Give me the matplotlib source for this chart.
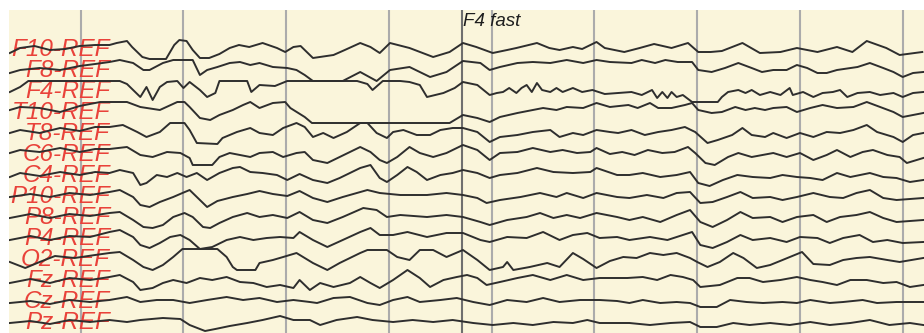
import numpy as np
import matplotlib
matplotlib.use("Agg")
import matplotlib.pyplot as plt

# montage, top to bottom
channels = ["F10-REF", "F8-REF", "F4-REF", "T10-REF", "T8-REF", "C6-REF", "C4-REF",
            "P10-REF", "P8-REF", "P4-REF", "O2-REF", "Fz-REF", "Cz-REF", "Pz-REF"]

# (time s, amplitude) per channel
F10 = [(0.31, -1), (0.41, 4), (0.55, 6), (0.70, 2), (0.85, 3), (0.99, 6), (1.14, 7), (1.28, 7),
       (1.35, 9), (1.45, 11), (1.50, 5), (1.60, -5), (1.67, -7), (1.83, -7), (1.91, 7), (1.96, 12),
       (2.03, 11), (2.09, 2), (2.16, -6), (2.25, -6), (2.35, -2), (2.45, 4), (2.54, 7), (2.64, 5),
       (2.77, 9), (2.91, 4), (2.99, 0), (3.07, 5), (3.14, 6), (3.26, -6), (3.46, -3), (3.57, 2),
       (3.72, 9), (3.82, 5), (3.91, -1), (4.01, 9), (4.20, 4), (4.43, -5), (4.59, 0), (4.72, 9),
       (4.85, 5), (5.01, -1), (5.15, 2), (5.24, 4), (5.44, 9), (5.56, 4), (5.66, 2), (5.79, 5),
       (5.88, 3), (6.02, 10), (6.10, 4), (6.29, 0), (6.44, 4), (6.58, 8), (6.75, 4), (6.91, 9),
       (7.01, 0), (7.13, 0), (7.24, 1), (7.44, 9), (7.61, -1), (7.81, 0), (7.97, 4), (8.17, 0),
       (8.36, 5), (8.51, 0), (8.65, 11), (8.84, 4), (8.97, -3), (9.19, 0)]
F8 = [(0.31, 0), (0.41, 3), (0.60, 5), (0.80, 3), (0.99, 7), (1.14, 9), (1.28, 11), (1.38, 13),
      (1.51, 10), (1.61, 3), (1.67, 3), (1.80, 10), (1.90, 13), (2.09, 13), (2.16, -2), (2.23, 3),
      (2.33, 6), (2.45, 10), (2.55, 11), (2.65, 8), (2.74, 10), (2.87, 6), (3.01, 5), (3.10, 3),
      (3.18, -2), (3.26, -12), (3.42, -11), (3.55, -9), (3.72, 1), (3.88, -9), (4.01, 3), (4.20, 6),
      (4.40, -4), (4.56, 1), (4.72, 12), (4.89, 10), (4.98, 3), (5.08, 6), (5.25, 10), (5.40, 11),
      (5.57, 10), (5.73, 13), (5.89, 10), (6.02, 13), (6.15, 11), (6.36, 10), (6.46, 13), (6.59, 10),
      (6.69, 13), (6.81, 11), (6.95, 11), (7.01, 3), (7.14, 1), (7.27, 5), (7.40, 10), (7.53, 5),
      (7.63, 1), (7.74, 3), (7.87, 3), (7.97, 8), (8.07, 5), (8.17, 0), (8.26, 0), (8.36, 3),
      (8.56, 6), (8.68, 10), (8.81, 5), (8.91, 1), (9.00, -4), (9.10, 0), (9.20, 1)]
F4 = [(0.31, 2), (0.41, 7), (0.49, 13), (1.38, 13), (1.45, 10), (1.58, -3), (1.64, 7), (1.70, -6),
      (1.77, 7), (1.84, 12), (1.94, 13), (2.00, 6), (2.06, 12), (2.16, 4), (2.23, -3), (2.31, 1),
      (2.35, 13), (2.62, 13), (2.66, 2), (2.74, 9), (2.89, 8), (3.01, 13), (3.69, 13), (3.79, 10),
      (3.84, 4), (3.94, 13), (4.11, 13), (4.20, 12), (4.30, 9), (4.37, -3), (4.53, 1), (4.64, 6),
      (4.72, 12), (4.86, 9), (4.98, -1), (5.05, 1), (5.11, 2), (5.17, 6), (5.24, 1), (5.29, 6),
      (5.34, 9), (5.39, 2), (5.44, 11), (5.49, 4), (5.57, 2), (5.63, 6), (5.69, 2), (5.79, 6),
      (5.88, 2), (5.98, 4), (6.10, 0), (6.23, 1), (6.36, 2), (6.46, -1), (6.56, 4), (6.61, -4),
      (6.66, 2), (6.71, -4), (6.75, 2), (6.80, -3), (6.86, -1), (6.95, -8), (7.20, -8), (7.24, -3),
      (7.30, 2), (7.40, 4), (7.47, 1), (7.53, 4), (7.61, -1), (7.71, 2), (7.81, -1), (7.90, 6),
      (7.93, -1), (8.03, 2), (8.13, -3), (8.22, 1), (8.32, 2), (8.39, 4), (8.46, -3), (8.56, 1),
      (8.68, 2), (8.78, -1), (8.91, 1), (9.00, -3), (9.10, 1), (9.20, 2)]
T10 = [(0.31, 5), (0.41, 8), (0.60, 7), (0.80, 3), (0.99, 9), (1.19, 13), (1.45, 13), (1.58, 8),
       (1.77, 5), (1.94, 13), (2.01, 13), (2.06, 8), (2.16, -3), (2.26, -5), (2.35, 0), (2.48, 5),
       (2.58, 10), (2.65, 13), (2.74, 7), (2.87, 12), (2.99, 13), (3.04, 7), (3.18, -2), (3.25, -8),
       (4.59, -8), (4.72, 0), (4.86, -3), (4.98, -7), (5.08, -2), (5.25, 2), (5.40, 5), (5.50, 7),
       (5.63, 5), (5.73, 8), (5.89, 7), (6.02, 12), (6.15, 8), (6.33, 10), (6.42, 7), (6.54, 12),
       (6.62, 7), (6.75, 7), (6.88, 10), (6.95, 12), (7.01, 5), (7.14, 2), (7.24, 3), (7.37, 8),
       (7.47, 5), (7.56, 7), (7.66, 5), (7.74, 7), (7.87, 8), (7.97, 3), (8.10, 7), (8.22, 10),
       (8.36, 7), (8.52, 8), (8.65, 13), (8.78, 8), (8.91, 3), (9.00, -2), (9.10, 0), (9.20, 2)]
T8 = [(0.31, 3), (0.41, 6), (0.60, 3), (0.80, 8), (0.99, 5), (1.14, 9), (1.28, 9), (1.41, 11),
      (1.55, 4), (1.64, -1), (1.77, 4), (1.87, 13), (2.01, 13), (2.06, 6), (2.13, -7), (2.33, -8),
      (2.38, -2), (2.52, 4), (2.65, 8), (2.74, 3), (2.87, 1), (2.97, 8), (3.10, 13), (3.18, 9),
      (3.26, -1), (3.36, 3), (3.46, -2), (3.59, 4), (3.72, 13), (3.79, 13), (3.88, 3), (3.98, -2),
      (4.04, 4), (4.14, 6), (4.27, 1), (4.40, 1), (4.50, 6), (4.62, 8), (4.72, 8), (4.86, 4),
      (4.98, -6), (5.08, -1), (5.25, 1), (5.40, 4), (5.57, 6), (5.66, -1), (5.79, 3), (5.89, 1),
      (6.02, 6), (6.15, 4), (6.23, 3), (6.36, 6), (6.49, 1), (6.62, 4), (6.75, 6), (6.88, 9),
      (6.98, 4), (7.10, -7), (7.20, -4), (7.34, 1), (7.44, 8), (7.53, 1), (7.66, -1), (7.74, 3),
      (7.87, -2), (8.00, 3), (8.13, -1), (8.26, 4), (8.39, 3), (8.52, 6), (8.65, 11), (8.75, 4),
      (8.91, -1), (9.00, -6), (9.10, 1), (9.20, 3)]
C6 = [(0.31, 4), (0.41, 7), (0.60, 5), (0.80, 9), (0.99, 5), (1.14, 8), (1.28, 8), (1.45, 10),
      (1.58, 2), (1.70, 0), (1.84, 5), (1.97, 4), (2.06, -1), (2.09, -8), (2.28, -8), (2.35, 0),
      (2.45, 4), (2.55, 2), (2.65, 0), (2.74, 4), (2.87, 5), (2.97, 0), (3.10, 4), (3.18, 5),
      (3.26, -3), (3.40, -6), (3.52, 0), (3.72, 10), (3.82, 5), (3.91, -3), (3.98, -6), (4.08, 0),
      (4.20, 10), (4.30, 4), (4.43, 0), (4.56, 4), (4.72, 12), (4.86, 7), (4.98, -3), (5.08, 4),
      (5.25, 5), (5.40, 9), (5.57, 5), (5.69, 7), (5.83, 4), (5.96, 5), (6.02, 9), (6.15, 3),
      (6.27, 5), (6.39, 2), (6.52, 7), (6.66, 4), (6.78, 5), (6.91, 10), (6.98, 4), (7.08, -6),
      (7.17, -8), (7.30, 0), (7.40, 4), (7.53, 0), (7.74, 4), (7.87, 0), (8.00, 4), (8.13, -3),
      (8.26, 2), (8.36, 7), (8.49, 0), (8.61, 5), (8.71, 7), (8.85, 2), (8.97, 0), (9.04, -6),
      (9.20, -1)]
C4 = [(0.31, 1), (0.41, 5), (0.60, 2), (0.80, 6), (0.99, 3), (1.14, 6), (1.28, 5), (1.38, 8),
      (1.51, 5), (1.58, -7), (1.64, -5), (1.74, 3), (1.84, 1), (1.94, 5), (2.03, 1), (2.13, 5),
      (2.23, -2), (2.35, 5), (2.48, 10), (2.55, 11), (2.65, 6), (2.77, 5), (2.91, 3), (3.01, -2),
      (3.13, 4), (3.26, -2), (3.40, -5), (3.52, 0), (3.72, 10), (3.82, 13), (3.91, 0), (3.98, -4),
      (4.08, 3), (4.18, 11), (4.27, 6), (4.37, -2), (4.50, 3), (4.62, 5), (4.72, 8), (4.86, 5),
      (4.98, 0), (5.08, 3), (5.25, 5), (5.44, 10), (5.60, 6), (5.79, 5), (5.96, 6), (6.02, 10),
      (6.22, 3), (6.34, 3), (6.47, 5), (6.64, 1), (6.80, 3), (6.93, 6), (7.01, -5), (7.12, -8),
      (7.25, -2), (7.39, 3), (7.54, 1), (7.71, 0), (7.83, 3), (7.97, 1), (8.10, 0), (8.22, -2),
      (8.36, 5), (8.49, 1), (8.68, 5), (8.81, 1), (8.94, 0), (9.07, -4), (9.20, -2)]
P10 = [(0.31, 2), (0.51, 5), (0.70, 2), (0.89, 6), (1.09, 4), (1.28, 7), (1.38, 9), (1.51, 2),
       (1.58, -6), (1.67, -8), (1.77, -3), (1.90, 2), (1.99, 6), (2.06, 9), (2.16, -1), (2.23, -8),
       (2.33, -2), (2.48, 2), (2.62, 5), (2.74, 8), (2.87, 5), (3.01, 3), (3.13, 8), (3.26, 1),
       (3.40, -3), (3.55, 2), (3.79, 9), (3.91, 6), (4.11, 4), (4.37, 4), (4.56, 6), (4.72, 4),
       (4.86, 1), (4.95, -4), (5.08, -1), (5.28, 2), (5.47, 6), (5.63, 2), (5.73, 6), (5.89, 1),
       (6.02, 6), (6.22, 2), (6.34, 1), (6.51, 4), (6.67, 1), (6.80, 6), (6.93, 7), (7.03, -4),
       (7.15, -3), (7.29, 2), (7.42, 7), (7.54, 1), (7.71, 2), (7.83, -1), (7.97, 2), (8.13, 6),
       (8.29, 2), (8.42, 1), (8.55, 6), (8.68, 9), (8.81, 1), (8.94, -1), (9.20, 1)]
P8 = [(0.31, 2), (0.51, 6), (0.70, 2), (0.89, 6), (1.09, 4), (1.28, 7), (1.38, 8), (1.51, 0),
      (1.61, -7), (1.70, -8), (1.80, -5), (1.90, 3), (2.01, 7), (2.09, 3), (2.19, -7), (2.26, -8),
      (2.35, -3), (2.48, 3), (2.62, 7), (2.74, 3), (2.87, 5), (3.01, 2), (3.13, 8), (3.26, 0),
      (3.40, -3), (3.55, 3), (3.75, 12), (3.88, 10), (3.98, 3), (4.11, 5), (4.37, 3), (4.56, 5),
      (4.72, 3), (4.89, -2), (4.98, -5), (5.15, 0), (5.34, 3), (5.47, 7), (5.60, 2), (5.73, 5),
      (5.86, 2), (6.02, 7), (6.22, 3), (6.34, 0), (6.47, 3), (6.64, -2), (6.80, 5), (6.93, 10),
      (7.03, -2), (7.15, -7), (7.29, 0), (7.42, 8), (7.54, 2), (7.71, 3), (7.83, -2), (7.97, 3),
      (8.13, 5), (8.26, -2), (8.39, 3), (8.55, 5), (8.68, 8), (8.81, 2), (8.94, -2), (9.20, 0)]
P4 = [(0.31, 1), (0.51, 5), (0.70, 1), (0.89, 5), (1.09, 4), (1.28, 9), (1.38, 11), (1.51, 4),
      (1.58, -4), (1.67, -7), (1.77, -2), (1.87, 4), (1.97, 6), (2.06, 1), (2.16, -8), (2.28, -6),
      (2.42, 1), (2.55, 4), (2.68, 1), (2.81, 3), (2.94, 4), (3.07, 3), (3.13, 9), (3.26, 1),
      (3.40, -6), (3.55, 1), (3.72, 9), (3.82, 13), (3.91, 6), (4.04, 6), (4.18, 9), (4.37, 4),
      (4.56, 8), (4.72, 8), (4.89, 1), (4.98, -1), (5.15, 4), (5.34, 3), (5.50, 9), (5.66, 1),
      (5.79, 6), (5.93, 8), (6.05, 3), (6.22, 4), (6.34, 1), (6.54, 4), (6.71, 1), (6.86, 6),
      (6.95, 9), (7.03, -4), (7.15, -7), (7.29, -1), (7.42, 6), (7.54, 1), (7.71, 3), (7.87, -1),
      (8.00, 4), (8.17, 3), (8.29, -2), (8.42, 3), (8.58, 6), (8.71, -1), (8.85, 1), (9.00, -2),
      (9.20, -1)]
O2 = [(0.31, 0), (0.46, -6), (0.60, 0), (0.75, 6), (0.94, 4), (1.14, 7), (1.28, 9), (1.38, 10),
      (1.51, 2), (1.61, -5), (1.70, -8), (1.80, -3), (1.90, 5), (1.99, 13), (2.33, 13), (2.42, 5),
      (2.48, -5), (2.52, -8), (2.70, -8), (2.74, -1), (2.87, 2), (2.97, 5), (3.10, 9), (3.26, -1),
      (3.40, -8), (3.52, -1), (3.72, 9), (3.79, 12), (3.98, 12), (4.08, 5), (4.20, 2), (4.30, 12),
      (4.43, 12), (4.56, 5), (4.72, 12), (4.86, 2), (4.98, -8), (5.11, -5), (5.15, 0), (5.21, -8),
      (5.37, -5), (5.54, -1), (5.66, -5), (5.79, 9), (5.89, 3), (6.02, -6), (6.15, 1), (6.28, 5),
      (6.41, 4), (6.54, 9), (6.67, 7), (6.80, 9), (6.93, 4), (7.00, 0), (7.10, -5), (7.22, 0),
      (7.35, 9), (7.45, 4), (7.58, -6), (7.71, -3), (7.83, 2), (8.02, 10), (8.13, -2), (8.29, -3),
      (8.42, 2), (8.55, 4), (8.68, 5), (8.85, 2), (8.97, 0), (9.20, 4)]
Fz = [(0.31, 0), (0.51, 4), (0.70, 0), (0.89, 5), (1.09, 3), (1.28, 6), (1.38, 8), (1.51, 1),
      (1.58, -7), (1.70, -5), (1.80, 0), (1.90, 3), (2.03, 0), (2.16, 5), (2.28, 3), (2.42, 6),
      (2.55, 1), (2.68, 0), (2.81, -4), (2.94, -2), (3.07, -5), (3.13, 3), (3.23, -7), (3.33, 0),
      (3.46, -4), (3.62, 0), (3.72, 6), (3.82, 0), (3.91, -5), (4.04, 3), (4.18, 13), (4.30, 5),
      (4.40, -4), (4.53, 3), (4.66, 6), (4.76, 8), (4.86, 5), (4.95, -2), (5.08, 1), (5.25, 5),
      (5.40, 8), (5.57, 3), (5.73, 8), (5.89, 3), (6.05, 5), (6.32, 5), (6.47, 6), (6.61, 3),
      (6.74, 8), (6.86, 6), (6.96, 3), (7.03, -4), (7.22, -2), (7.39, 5), (7.51, 5), (7.64, 1),
      (7.81, 3), (7.97, 6), (8.10, 3), (8.22, 1), (8.36, -2), (8.49, 3), (8.65, 3), (8.81, 0),
      (8.94, 1), (9.07, -4), (9.20, -2)]
Cz = [(0.31, 1), (0.51, 3), (0.70, 0), (0.89, 4), (1.09, 2), (1.28, 4), (1.45, 7), (1.58, 2),
      (1.74, 4), (1.90, 4), (2.06, 1), (2.23, 4), (2.42, 7), (2.58, 4), (2.74, 6), (2.91, 2),
      (3.07, 4), (3.23, 2), (3.30, 1), (3.46, 6), (3.62, 7), (3.79, 1), (3.91, -1), (4.04, 4),
      (4.18, 7), (4.30, 2), (4.50, 4), (4.66, 6), (4.82, 2), (4.98, -1), (5.15, 4), (5.34, 2),
      (5.50, 6), (5.66, 2), (5.86, 4), (6.05, 4), (6.22, 3), (6.34, 1), (6.47, 4), (6.64, 1),
      (6.80, 2), (6.93, 1), (7.03, -3), (7.19, -3), (7.32, 4), (7.48, 2), (7.64, 1), (7.83, 2),
      (7.97, 1), (8.10, 4), (8.29, 1), (8.42, 2), (8.61, 4), (8.75, 1), (8.94, 2), (9.20, 2)]
Pz = [(0.31, 2), (0.51, 4), (0.70, 1), (0.89, 5), (1.09, 3), (1.28, 5), (1.45, 3), (1.58, 5),
      (1.80, 7), (1.97, 6), (2.06, 0), (2.21, -6), (2.31, -4), (2.45, -1), (2.62, 2), (2.77, 5),
      (2.94, 9), (3.07, 5), (3.23, 5), (3.33, 0), (3.49, 5), (3.69, 8), (3.84, 5), (4.04, 3),
      (4.23, 5), (4.43, 3), (4.62, 5), (4.82, 2), (5.01, 0), (5.21, 2), (5.40, 0), (5.60, 3),
      (5.79, 2), (5.93, 5), (6.05, 2), (6.22, 2), (6.34, 2), (6.54, 0), (6.74, 2), (6.93, 3),
      (7.03, -2), (7.19, -2), (7.35, 2), (7.51, 0), (7.71, 2), (7.90, 0), (8.10, 3), (8.29, 0),
      (8.49, 2), (8.68, 5), (8.87, 0), (9.07, 2), (9.20, 0)]

traces = [F10, F8, F4, T10, T8, C6, C4, P10, P8, P4, O2, Fz, Cz, Pz]

seconds = list(range(1, 10))
event_time = 4.71
event_label = "F4 fast"

# display settings (vertical units are screen pixels)
spacing = 21
first_row = 52
clip_hi, clip_lo = 13, -8

fig = plt.figure(figsize=(9.24, 3.33), dpi=100)
fig.patch.set_facecolor("white")
ax = fig.add_axes([9 / 924, 0, 915 / 924, 323 / 333])
ax.set_xlim(0.302, 9.207)
ax.set_ylim(333, 10)
ax.axis("off")
ax.add_patch(plt.Rectangle((0, 0), 1, 1, transform=ax.transAxes, color="#FAF5DB", zorder=0))

for s in seconds:
    ax.axvline(s, color="#ababab", lw=1.5, zorder=1)
ax.axvline(event_time, color="#6f6f6f", lw=1.5, zorder=1)
ax.text(event_time + 0.01, 26, event_label, fontsize=13.5, style="italic",
        family="Liberation Sans", color="#1e1e1e", ha="left", va="baseline", zorder=4)

for k, (name, data) in enumerate(zip(channels, traces)):
    base = first_row + spacing * k
    ax.text(1.285, base + 4, name, fontsize=17.5, style="italic", family="Liberation Sans",
            color="#E9423A", ha="right", va="baseline", zorder=2)
    arr = np.array(data, dtype=float)
    amp = np.clip(arr[:, 1], clip_lo, clip_hi)
    ax.plot(arr[:, 0], base - amp, color="#2e2e2e", lw=1.4, zorder=3,
            solid_joinstyle="round")

fig.savefig("out.png", dpi=100, facecolor="white")
